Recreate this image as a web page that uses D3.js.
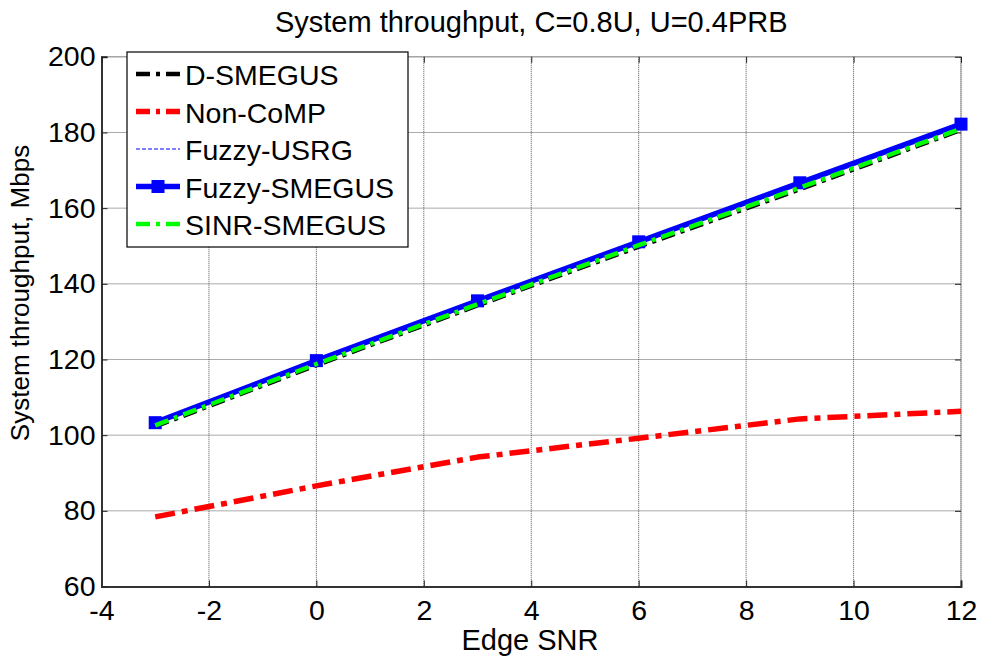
<!DOCTYPE html>
<html>
<head>
<meta charset="utf-8">
<script src="https://cdn.jsdelivr.net/npm/d3@7"></script>
<style>
  html, body { margin: 0; padding: 0; background: #fff; }
  svg { display: block; font-family: "Liberation Sans", Arial, Helvetica, sans-serif; }
</style>
</head>
<body>
<svg id="chart" width="982" height="659"></svg>
<script>
// ---------- data ----------
const snr = [-3, 0, 3, 6, 9, 12];
const dSmegus     = [102.3, 118.5, 134.3, 149.8, 165.0, 180.7];
const nonComp     = [78.4, 86.6, 94.2, 99.2, 104.3, 106.3];
const fuzzyUsrg   = [103.2, 119.6, 135.4, 151.0, 166.6, 182.1];
const fuzzySmegus = [103.3, 119.7, 135.5, 151.1, 166.7, 182.2];
const sinrSmegus  = [102.6, 118.8, 134.6, 150.2, 165.4, 181.0];
const seriesNames = ["D-SMEGUS", "Non-CoMP", "Fuzzy-USRG", "Fuzzy-SMEGUS", "SINR-SMEGUS"];
const xTicks = [-4, -2, 0, 2, 4, 6, 8, 10, 12];
const yTicks = [60, 80, 100, 120, 140, 160, 180, 200];
const titleText = "System throughput, C=0.8U, U=0.4PRB";
const xLabel = "Edge SNR";
const yLabel = "System throughput, Mbps";

// ---------- styles ----------
const styles = [
  { color: "#000000", width: 4.5, dash: "14,6,4,6",  marker: false },
  { color: "#ff0000", width: 5.5, dash: "20,7,6,7",  marker: false },
  { color: "#0000ff", width: 1,   dash: "4,2",       marker: false },
  { color: "#0000ff", width: 5.5, dash: null,        marker: true  },
  { color: "#00ff00", width: 4.5, dash: "14,6,4,6",  marker: false }
];
const seriesData = [dSmegus, nonComp, fuzzyUsrg, fuzzySmegus, sinrSmegus];

const svg = d3.select("#chart");
const L = 101.5, R = 961, T = 56.8, B = 586.5;
const x = d3.scaleLinear().domain([-4, 12]).range([L, R]);
const y = d3.scaleLinear().domain([60, 200]).range([B, T]);

// grid
const grid = svg.append("g");
xTicks.forEach(t => {
  grid.append("line").attr("x1", x(t)).attr("x2", x(t)).attr("y1", T).attr("y2", B)
    .attr("stroke", "#555").attr("stroke-width", 1).attr("stroke-dasharray", "1,1");
});
yTicks.forEach(t => {
  grid.append("line").attr("x1", L).attr("x2", R).attr("y1", y(t)).attr("y2", y(t))
    .attr("stroke", "#555").attr("stroke-width", 1).attr("stroke-dasharray", "1,1");
});

// right/top box
svg.append("line").attr("x1", L).attr("x2", R).attr("y1", T).attr("y2", T).attr("stroke", "#999").attr("stroke-width", 1);
svg.append("line").attr("x1", R).attr("x2", R).attr("y1", T).attr("y2", B).attr("stroke", "#999").attr("stroke-width", 1);

// axes with inward ticks
const fontTick = 28.5;
const xAxis = d3.axisBottom(x).tickValues(xTicks).tickSize(-6).tickPadding(13.5).tickFormat(d => String(d));
const yAxis = d3.axisLeft(y).tickValues(yTicks).tickSize(-6).tickPadding(6).tickFormat(d => String(d));
const gx = svg.append("g").attr("transform", `translate(0,${B})`).call(xAxis);
const gy = svg.append("g").attr("transform", `translate(${L},0)`).call(yAxis);
[gx, gy].forEach(g => {
  g.select(".domain").attr("stroke", "#333").attr("stroke-width", 2);
  g.selectAll(".tick line").attr("stroke", "#222").attr("stroke-width", 1);
  g.selectAll(".tick text").attr("fill", "#000").style("font-size", fontTick + "px")
    .style("font-family", "'Liberation Sans', Arial, sans-serif");
});
// top & right ticks
const gt = svg.append("g").attr("transform", `translate(0,${T})`)
  .call(d3.axisTop(x).tickValues(xTicks).tickSize(-6).tickFormat(""));
const gr = svg.append("g").attr("transform", `translate(${R},0)`)
  .call(d3.axisRight(y).tickValues(yTicks).tickSize(-6).tickFormat(""));
[gt, gr].forEach(g => {
  g.select(".domain").remove();
  g.selectAll(".tick line").attr("stroke", "#222").attr("stroke-width", 1);
});

// lines
const line = d3.line().x((d, i) => x(snr[i])).y(d => y(d));
seriesData.forEach((vals, k) => {
  const s = styles[k];
  const p = svg.append("path").datum(vals).attr("d", line)
    .attr("fill", "none").attr("stroke", s.color).attr("stroke-width", s.width)
    .attr("stroke-linejoin", "round");
  if (s.dash) p.attr("stroke-dasharray", s.dash);
  if (s.marker) {
    svg.append("g").selectAll("rect").data(vals).join("rect")
      .attr("x", (d, i) => x(snr[i]) - 6.5).attr("y", d => y(d) - 6.5)
      .attr("width", 13).attr("height", 13).attr("fill", s.color);
  }
});

// title & labels
svg.append("text").attr("x", (L + R) / 2).attr("y", 32).attr("text-anchor", "middle")
  .style("font-size", "29px").text(titleText);
svg.append("text").attr("x", 530).attr("y", 650).attr("text-anchor", "middle")
  .style("font-size", "29px").text(xLabel);
svg.append("text").attr("transform", "translate(29,293) rotate(-90)").attr("text-anchor", "middle")
  .style("font-size", "26px").text(yLabel);

// legend
const lg = svg.append("g");
lg.append("rect").attr("x", 127).attr("y", 52).attr("width", 281).attr("height", 195)
  .attr("fill", "#fff").attr("stroke", "#000").attr("stroke-width", 1.2);
seriesNames.forEach((name, k) => {
  const s = styles[k];
  const base = 85 + k * 37.5;
  const ly = base - 11;
  const l = lg.append("line").attr("x1", 136).attr("x2", 180).attr("y1", ly).attr("y2", ly)
    .attr("stroke", s.color).attr("stroke-width", s.width);
  if (s.dash) l.attr("stroke-dasharray", k === 2 ? "4,2" : "14,6,4,6");
  if (s.marker) {
    lg.append("rect").attr("x", 158 - 6.5).attr("y", ly - 6.5).attr("width", 13).attr("height", 13).attr("fill", s.color);
  }
  lg.append("text").attr("x", 185).attr("y", base).style("font-size", "28.5px").text(name);
});
</script>
</body>
</html>
